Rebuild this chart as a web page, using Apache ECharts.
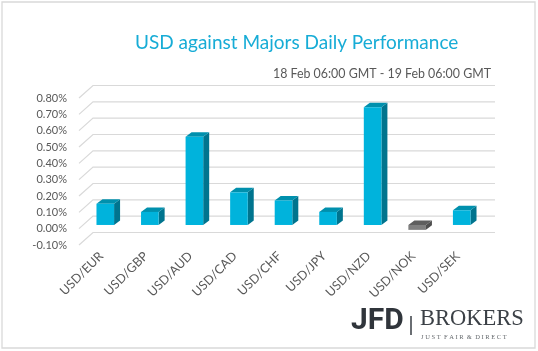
<!DOCTYPE html>
<html>
<head>
<meta charset="utf-8">
<script src="https://cdn.jsdelivr.net/npm/echarts@6/dist/echarts.min.js"></script>
<style>
    html, body {margin: 0; padding: 0; background: #fff;}
    #main {width: 538px; height: 351px;}
</style>
</head>
<body>
<div id="main"></div>
<script>
// 数据
var categories = ['USD/EUR', 'USD/GBP', 'USD/AUD', 'USD/CAD', 'USD/CHF', 'USD/JPY', 'USD/NZD', 'USD/NOK', 'USD/SEK'];
var performance = [0.13, 0.08, 0.54, 0.20, 0.15, 0.08, 0.72, -0.03, 0.09];
var valueTicks = [-0.1, 0, 0.1, 0.2, 0.3, 0.4, 0.5, 0.6, 0.7, 0.8];

var textColor = '#595959';
var fontName = 'Lato, "Open Sans", sans-serif';

// 3D效果偏移
var wallDx = 14, wallDy = -12.5;
var barDx = 4, barDy = -3.7;
var sideDx = 6, sideDy = -4.5;

function renderWall(params, api) {
    var p = api.coord([0, api.value(1)]);
    var left = params.coordSys.x;
    var right = left + params.coordSys.width;
    return {
        type: 'polyline',
        shape: {points: [[left, p[1]], [left + wallDx, p[1] + wallDy], [right + wallDx + 1, p[1] + wallDy]]},
        style: {stroke: '#d9d9d9', lineWidth: 1.2, fill: null}
    };
}

function renderBar(params, api) {
    var idx = api.value(0), val = api.value(1);
    var base = api.coord([idx, 0]);
    var top = api.coord([idx, val]);
    var w = api.size([1, 0])[0] * 0.395;
    var x0 = base[0] - w / 2 + barDx, x1 = x0 + w;
    var yb = base[1] + barDy, yt = top[1] + barDy;
    var yHi = Math.min(yb, yt), yLo = Math.max(yb, yt);
    var neg = val < 0;
    var cFront = neg ? '#7f7f7f' : '#00b3dc';
    var cSide = neg ? '#4f4f4f' : '#00748e';
    var cTop = neg ? '#5e5e5e' : '#0090ad';
    return {
        type: 'group',
        children: [
            {type: 'polygon', shape: {points: [[x1, yHi], [x1 + sideDx, yHi + sideDy], [x1 + sideDx, yLo + sideDy], [x1, yLo]]}, style: {fill: cSide}},
            {type: 'polygon', shape: {points: [[x0, yHi], [x1, yHi], [x1 + sideDx, yHi + sideDy], [x0 + sideDx, yHi + sideDy]]}, style: {fill: cTop}},
            {type: 'rect', shape: {x: x0, y: yHi, width: w, height: yLo - yHi}, style: {fill: cFront}}
        ]
    };
}

var option = {
    animation: false,
    title: {
        text: 'USD against Majors Daily Performance',
        left: 130,
        top: 28,
        textStyle: {color: '#17acd6', fontSize: 19, fontWeight: 'normal', fontFamily: fontName}
    },
    grid: {left: 79, right: 58, top: 98, bottom: 106},
    xAxis: {
        type: 'category',
        data: categories,
        axisLine: {show: false},
        axisTick: {show: false},
        axisLabel: {rotate: 45, margin: 9, color: textColor, fontSize: 12.5, fontFamily: fontName, interval: 0}
    },
    yAxis: {
        type: 'value',
        min: -0.1,
        max: 0.8,
        interval: 0.1,
        splitLine: {show: false},
        axisLine: {show: false},
        axisTick: {show: false},
        axisLabel: {
            margin: 12, color: textColor, fontSize: 11, fontFamily: fontName,
            formatter: function (v) { return v.toFixed(2) + '%'; }
        }
    },
    graphic: [
        {type: 'rect', shape: {x: 2, y: 2, width: 533, height: 346}, style: {fill: null, stroke: '#d9d9d9', lineWidth: 1.3}, z: 0},
        {type: 'text', x: 491, y: 74, style: {text: '18 Feb 06:00 GMT - 19 Feb 06:00 GMT', align: 'right', verticalAlign: 'middle', fill: textColor, fontSize: 12.4, fontFamily: fontName}},
        {type: 'text', x: 351, y: 336, style: {text: 'JFD', align: 'left', verticalAlign: 'bottom', fill: '#30353b', fontSize: 30, fontWeight: 'bold', fontFamily: 'Roboto, sans-serif'}},
        {type: 'rect', shape: {x: 410, y: 316, width: 2, height: 19}, style: {fill: '#6a6e73'}},
        {type: 'text', x: 420, y: 331, style: {text: 'BROKERS', align: 'left', verticalAlign: 'bottom', fill: '#3b4046', fontSize: 22.5, fontFamily: '"Liberation Serif", serif'}},
        {type: 'text', x: 421, y: 341, style: {text: 'J U S T  F A I R  &  D I R E C T', align: 'left', verticalAlign: 'bottom', fill: '#666a6e', fontSize: 6.5, fontFamily: '"Liberation Serif", serif'}}
    ],
    series: [
        {
            name: 'wall',
            type: 'custom',
            renderItem: renderWall,
            clip: false,
            z: 1,
            data: valueTicks.map(function (v) { return [0, v]; })
        },
        {
            name: 'performance',
            type: 'custom',
            renderItem: renderBar,
            clip: false,
            z: 2,
            data: performance.map(function (v, i) { return [i, v]; })
        }
    ]
};

var myChart = echarts.init(document.getElementById('main'));
myChart.setOption(option);
</script>
</body>
</html>
